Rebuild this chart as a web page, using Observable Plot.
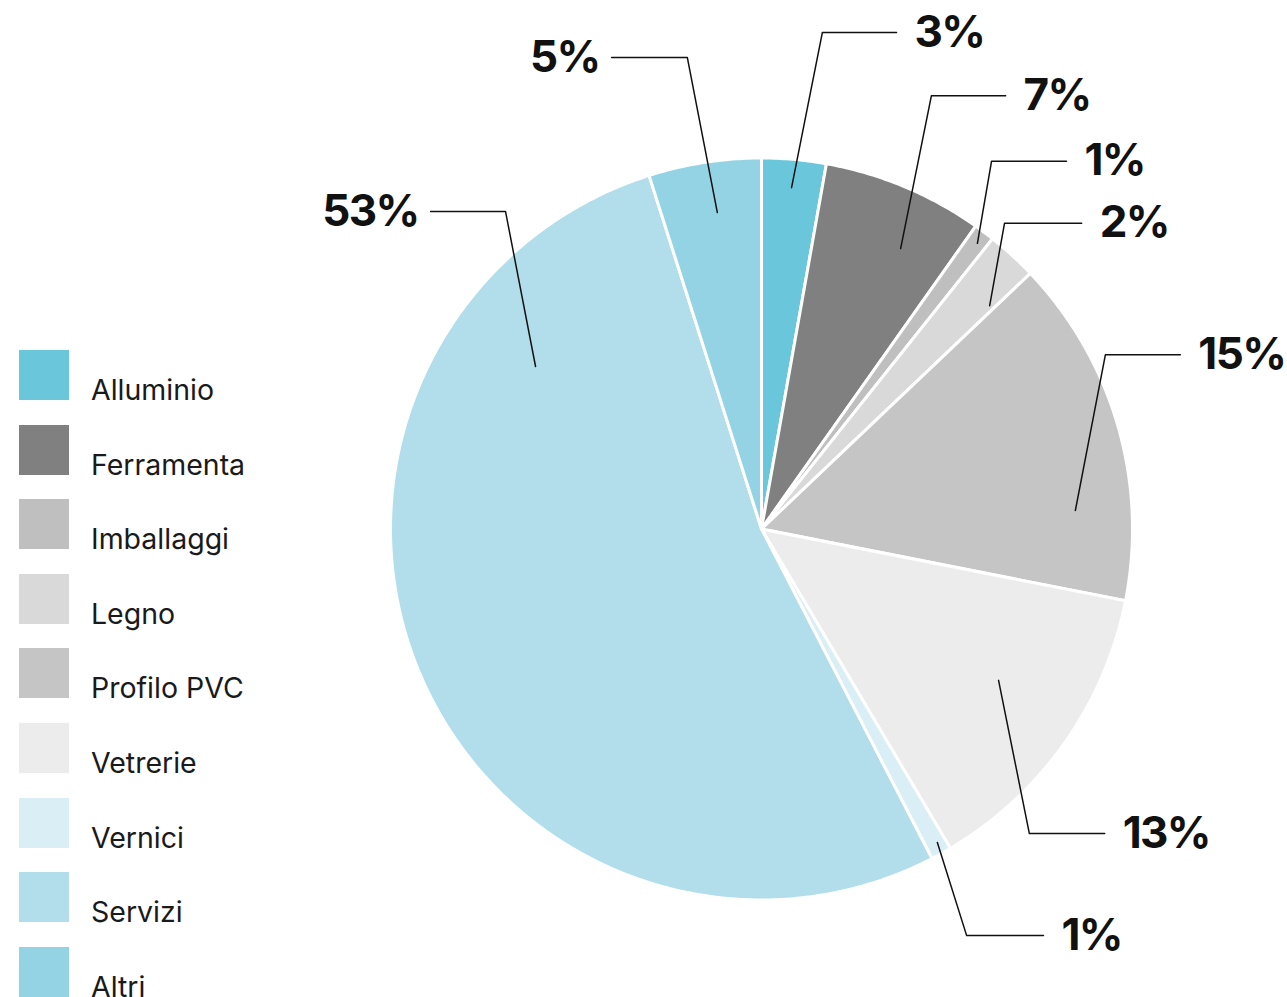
<!DOCTYPE html>
<html>
<head>
<meta charset="utf-8">
<script src="https://cdn.jsdelivr.net/npm/d3@7"></script>
<script src="https://cdn.jsdelivr.net/npm/@observablehq/plot@0.6"></script>
<style>
  html, body { margin: 0; padding: 0; background: #fff; overflow: hidden; }
  #wrap { position: relative; width: 1287px; height: 997px; }
  #chart { position: absolute; left: 0; top: 0; }
  #chart svg text { letter-spacing: -1.6px; }
  .row { position: absolute; left: 19px; white-space: nowrap; font-family: Inter, "Noto Sans", sans-serif; font-size: 28.5px; font-weight: 400; color: #1a1a1a; }
  .sw { display: inline-block; width: 50px; height: 50px; vertical-align: baseline; }
  .lb { margin-left: 22px; }
</style>
</head>
<body>
<div id="wrap">
  <div id="chart"></div>
  <div id="legend"></div>
</div>
<script>
// ---- data ----
const names  = ["Alluminio", "Ferramenta", "Imballaggi", "Legno", "Profilo PVC", "Vetrerie", "Vernici", "Servizi", "Altri"];
const shares = [2.8, 7.0, 0.9, 2.2, 15.2, 13.4, 0.9, 52.7, 4.9];
const labels = ["3%", "7%", "1%", "2%", "15%", "13%", "1%", "53%", "5%"];
const colors = ["#6AC6DA", "#808080", "#BFBFBF", "#D9D9D9", "#C5C5C5", "#ECECEC", "#DAEEF5", "#B1DEEA", "#93D3E3"];

// ---- callout layout (pie radius units) ----
const calloutStart = [[0.081, 0.920], [0.375, 0.756], [0.582, 0.770], [0.615, 0.602], [0.846, 0.050], [0.639, -0.408], [0.474, -0.845], [-0.609, 0.438], [-0.119, 0.853]];
const calloutElbow = [[0.164, 1.338], [0.458, 1.168], [0.620, 0.991], [0.655, 0.824], [0.927, 0.470], [0.722, -0.821], [0.553, -1.096], [-0.690, 0.856], [-0.200, 1.271]];
const calloutEndX  = [0.364, 0.658, 0.822, 0.863, 1.129, 0.925, 0.760, -0.892, -0.404];

// ---- build slices ----
const total = d3.sum(shares);
const slicePts = [];
let cum = 0;
names.forEach((n, i) => {
  const a0 = cum / total * 2 * Math.PI;
  cum += shares[i];
  const a1 = cum / total * 2 * Math.PI;
  slicePts.push({name: n, x: 0, y: 0});
  const steps = Math.max(2, Math.ceil((a1 - a0) / (Math.PI / 360)));
  for (let k = 0; k <= steps; k++) {
    const a = a0 + (a1 - a0) * k / steps;
    slicePts.push({name: n, x: Math.sin(a), y: Math.cos(a)});
  }
  slicePts.push({name: n, x: 0, y: 0});
});

const leaderPts = [];
const labelRows = [];
names.forEach((n, i) => {
  const [sx, sy] = calloutStart[i];
  const [ex, ey] = calloutElbow[i];
  leaderPts.push({id: n, x: sx, y: sy}, {id: n, x: ex, y: ey}, {id: n, x: calloutEndX[i], y: ey});
  labelRows.push({name: n, label: labels[i], x: calloutEndX[i], y: ey, right: calloutEndX[i] > ex});
});

const chart = Plot.plot({
  width: 1287,
  height: 997,
  x: {domain: [-1, 1], range: [390, 1132], axis: null},
  y: {domain: [-1, 1], range: [899.5, 157.5], axis: null},
  color: {domain: names, range: colors},
  style: {background: "white", overflow: "visible"},
  marks: [
    Plot.line(slicePts, {x: "x", y: "y", z: "name", fill: "name", stroke: "white", strokeWidth: 3, strokeLinejoin: "round"}),
    Plot.line(leaderPts, {x: "x", y: "y", z: "id", stroke: "#111", strokeWidth: 1.5}),
    Plot.text(labelRows.filter(d => d.right), {x: "x", y: "y", text: "label", textAnchor: "start", lineAnchor: "middle", dx: 18, fontSize: 44, fontWeight: 700, fontFamily: "Inter, 'Noto Sans', sans-serif", fill: "#111"}),
    Plot.text(labelRows.filter(d => !d.right), {x: "x", y: "y", text: "label", textAnchor: "end", lineAnchor: "middle", dx: -12, fontSize: 44, fontWeight: 700, fontFamily: "Inter, 'Noto Sans', sans-serif", fill: "#111"})
  ]
});
document.getElementById("chart").appendChild(chart);

// ---- legend ----
const legend = document.getElementById("legend");
names.forEach((n, i) => {
  const row = document.createElement("div");
  row.className = "row";
  row.style.top = (350 + i * 74.6) + "px";
  const sw = document.createElement("span");
  sw.className = "sw";
  sw.style.background = colors[i];
  const lb = document.createElement("span");
  lb.className = "lb";
  lb.textContent = n;
  row.appendChild(sw);
  row.appendChild(lb);
  legend.appendChild(row);
});
</script>
</body>
</html>
